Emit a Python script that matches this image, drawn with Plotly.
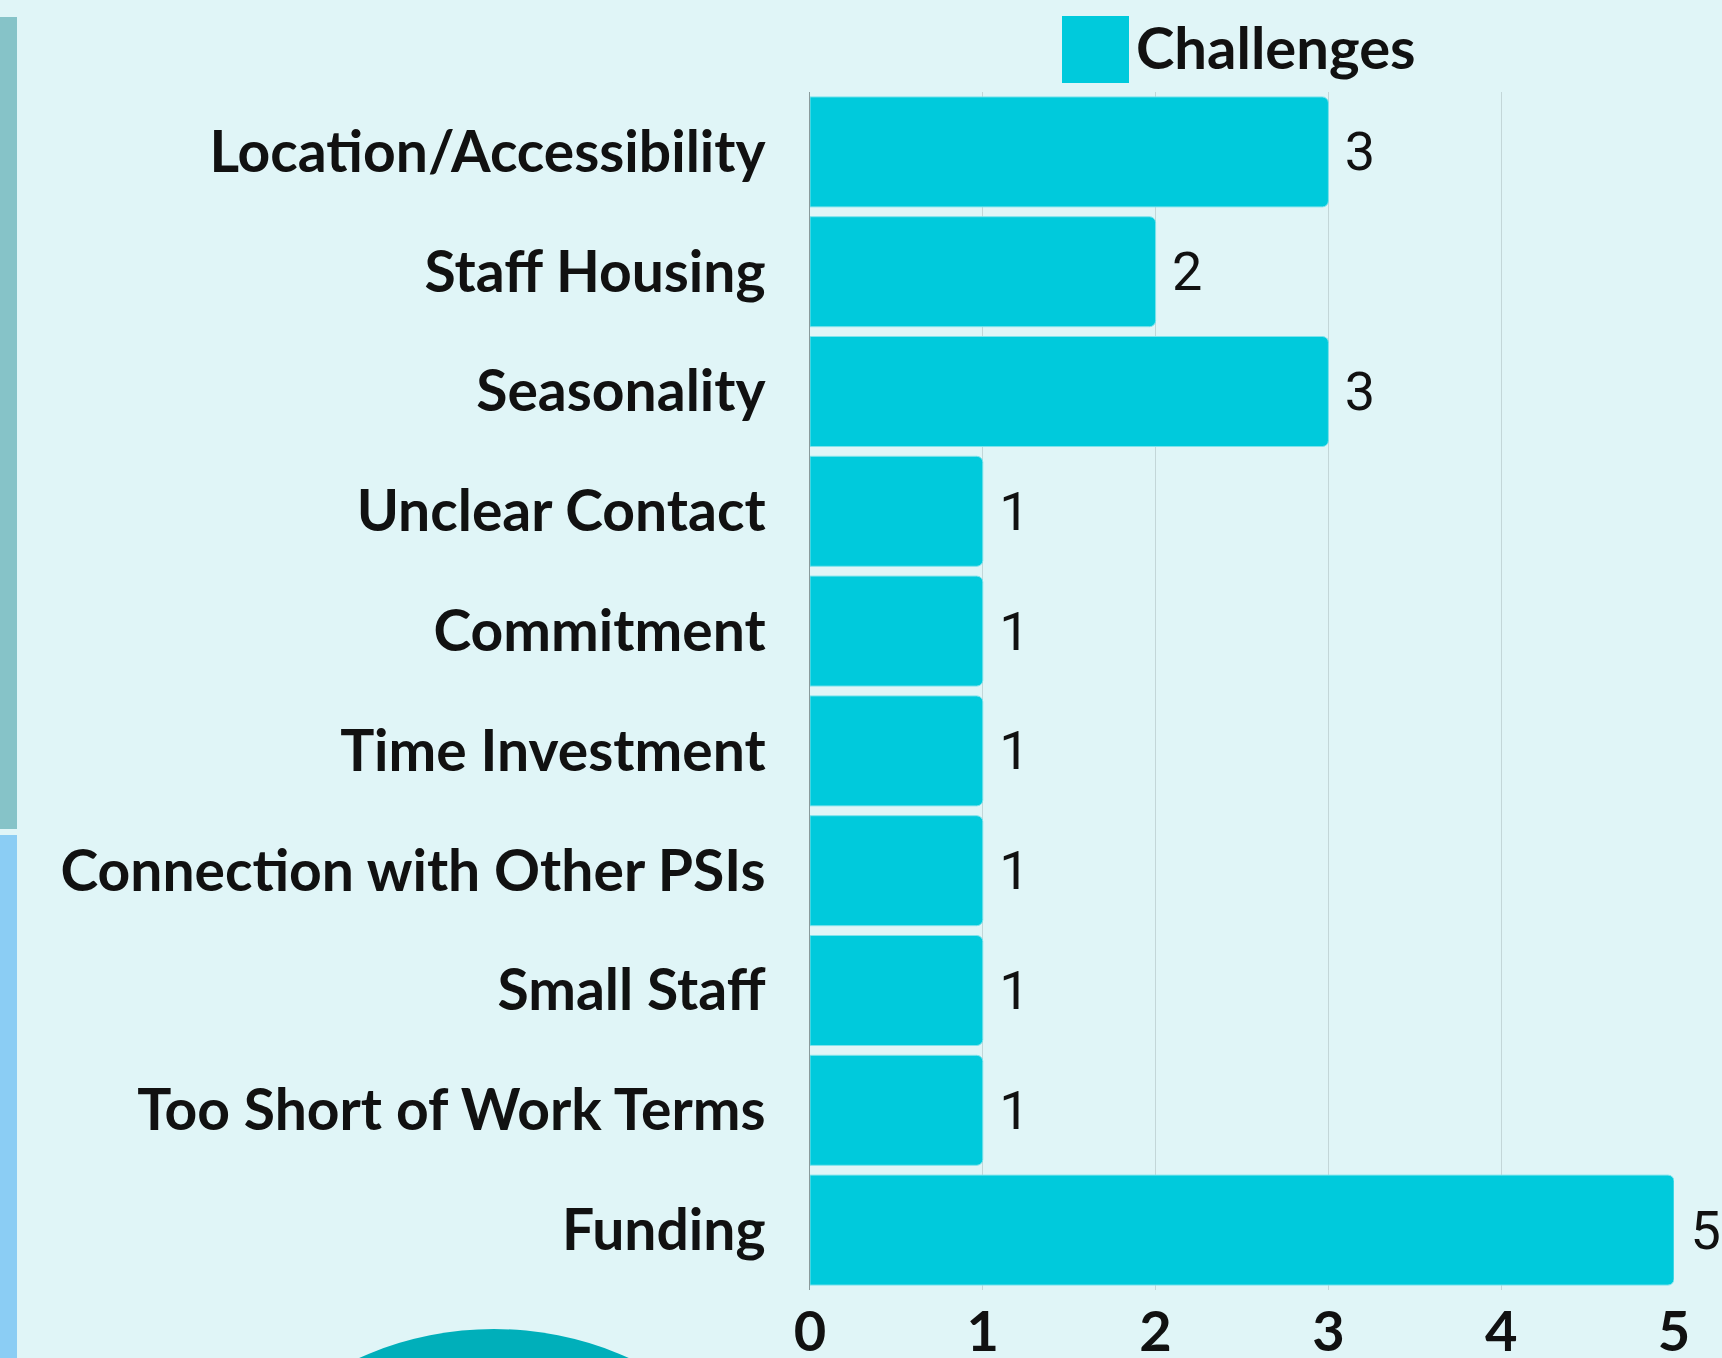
import plotly.graph_objects as go

categories = [
    'Location/Accessibility',
    'Staff Housing',
    'Seasonality',
    'Unclear Contact',
    'Commitment',
    'Time Investment',
    'Connection with Other PSIs',
    'Small Staff',
    'Too Short of Work Terms',
    'Funding',
]
challenges = [3, 2, 3, 1, 1, 1, 1, 1, 1, 5]
x_ticks = [0, 1, 2, 3, 4, 5]

W, H = 1722, 1358
ML, MR, MT, MB = 810, 48, 92, 68
BG = '#E0F5F7'
BAR = '#00CADC'


def px_x(p):
    return (p - ML) / (W - ML - MR)


def px_y(p):
    return (H - MB - p) / (H - MT - MB)


fig = go.Figure()

fig.add_trace(go.Bar(
    x=challenges,
    y=categories,
    orientation='h',
    name='Challenges',
    marker=dict(color=BAR, cornerradius=6, line=dict(color='#7FE3EC', width=1)),
    text=challenges,
    texttemplate=' %{x}',
    textposition='outside',
    textfont=dict(family='Roboto', size=54, color='#111111'),
    cliponaxis=False,
    showlegend=False,
))

shapes = [
    # left edge strips
    dict(type='rect', xref='paper', yref='paper', x0=px_x(0), x1=px_x(17),
         y0=px_y(829), y1=px_y(17), fillcolor='#86C3C8', line=dict(width=0), layer='below'),
    dict(type='rect', xref='paper', yref='paper', x0=px_x(0), x1=px_x(17),
         y0=px_y(1358), y1=px_y(835), fillcolor='#8BCDF4', line=dict(width=0), layer='below'),
    # circle at bottom
    dict(type='circle', xref='paper', yref='paper', x0=px_x(494 - 328), x1=px_x(494 + 328),
         y0=px_y(1657 + 328), y1=px_y(1657 - 328), fillcolor='#00AFBA', line=dict(width=0), layer='below'),
    # legend swatch
    dict(type='rect', xref='paper', yref='paper', x0=px_x(1062), x1=px_x(1129),
         y0=px_y(83), y1=px_y(16), fillcolor=BAR, line=dict(width=0)),
]

fig.add_annotation(
    xref='paper', yref='paper', x=px_x(1134), y=px_y(47),
    xanchor='left', yanchor='middle', showarrow=False,
    text='Challenges',
    font=dict(family='Lato', size=58, color='#111111', weight='bold'),
)

fig.update_layout(
    width=W,
    height=H,
    margin=dict(l=ML, r=MR, t=MT, b=MB),
    paper_bgcolor=BG,
    plot_bgcolor=BG,
    bargap=0.082,
    shapes=shapes,
    font=dict(family='Lato', color='#111111'),
    xaxis=dict(
        range=[0, 5],
        tickvals=x_ticks,
        tickfont=dict(family='Lato', size=56, color='#111111', weight='bold'),
        showgrid=True,
        gridcolor='#C3D6D8',
        gridwidth=1,
        zeroline=False,
        ticks='',
        ticklabelstandoff=4,
        automargin=False,
        fixedrange=True,
    ),
    yaxis=dict(
        autorange='reversed',
        tickfont=dict(family='Lato', size=57, color='#111111', weight='bold'),
        showline=True,
        linecolor='#8A9A9C',
        linewidth=1,
        ticks='',
        ticklabelstandoff=32,
        showgrid=False,
        automargin=False,
    ),
)

fig.write_html(
    'out.html',
    config={'displayModeBar': False},
    post_script="document.body.style.margin='0';document.body.style.background='#E0F5F7';",
)
